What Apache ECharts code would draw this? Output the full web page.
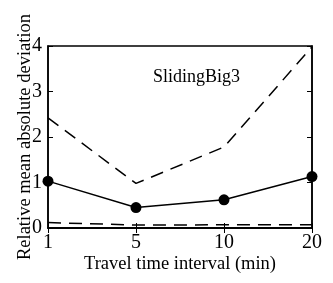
<!DOCTYPE html>
<html>
<head>
<meta charset="utf-8">
<script src="https://cdn.jsdelivr.net/npm/echarts@6/dist/echarts.min.js"></script>
<style>
html,body{margin:0;padding:0;background:#fff;}
#c{width:333px;height:283px;}
</style>
</head>
<body>
<div id="c"></div>
<script>
const categories = ['1', '5', '10', '20'];
const upperDashed = [2.42, 0.98, 1.78, 3.98];
const meanSolid = [1.03, 0.45, 0.62, 1.13];
const lowerDashed = [0.12, 0.065, 0.07, 0.07];
const yTicks = [0, 1, 2, 3, 4];

const FONT = '"Liberation Serif", "DejaVu Serif", serif';
const chart = echarts.init(document.getElementById('c'), null, {renderer: 'canvas'});
const tickStyle = {show: true, inside: true, length: 5, lineStyle: {color: '#000', width: 1}};
chart.setOption({
  animation: false,
  backgroundColor: '#fff',
  grid: {left: 48, right: 21, top: 46, bottom: 55, containLabel: false, outerBoundsMode: 'none',
    show: true, borderColor: '#000', borderWidth: 1.5, backgroundColor: 'transparent'},
  xAxis: [{
    type: 'category', data: categories, boundaryGap: false, position: 'bottom',
    axisLine: {show: true, lineStyle: {color: '#000', width: 1.5}},
    axisTick: Object.assign({alignWithLabel: true}, tickStyle),
    axisLabel: {color: '#000', fontSize: 20, fontFamily: FONT, margin: 5},
    splitLine: {show: false},
    name: 'Travel time interval (min)', nameLocation: 'middle', nameGap: 27, nameMoveOverlap: false,
    nameTextStyle: {color: '#000', fontSize: 18.5, fontFamily: FONT}
  }, {
    type: 'category', data: categories, boundaryGap: false, position: 'top',
    axisLine: {show: true, lineStyle: {color: '#000', width: 1.5}},
    axisTick: tickStyle, axisLabel: {show: false}, splitLine: {show: false}
  }],
  yAxis: [{
    type: 'value', min: 0, max: 4, interval: 1, position: 'left',
    axisLine: {show: true, lineStyle: {color: '#000', width: 1.5}},
    axisTick: tickStyle,
    axisLabel: {color: '#000', fontSize: 20, fontFamily: FONT, margin: 6,
      formatter: v => yTicks.includes(v) ? String(v) : ''},
    splitLine: {show: false},
    name: 'Relative mean absolute deviation', nameLocation: 'middle', nameGap: 13, nameMoveOverlap: false,
    nameTextStyle: {color: '#000', fontSize: 18.5, fontFamily: FONT}
  }, {
    type: 'value', min: 0, max: 4, interval: 1, position: 'right',
    axisLine: {show: true, lineStyle: {color: '#000', width: 1.5}},
    axisTick: tickStyle, axisLabel: {show: false}, splitLine: {show: false}
  }],
  graphic: [{
    type: 'text', left: 153, top: 68,
    style: {text: 'SlidingBig3', fill: '#000', font: '18px ' + FONT}
  }],
  series: [{
    type: 'line', data: upperDashed, xAxisIndex: 0, yAxisIndex: 0,
    showSymbol: false, symbol: 'none',
    lineStyle: {color: '#000', width: 1.5, type: [13, 8]}
  }, {
    type: 'line', data: meanSolid, xAxisIndex: 0, yAxisIndex: 0,
    symbol: 'circle', symbolSize: 11,
    itemStyle: {color: '#000'},
    lineStyle: {color: '#000', width: 1.5}
  }, {
    type: 'line', data: lowerDashed, xAxisIndex: 0, yAxisIndex: 0,
    showSymbol: false, symbol: 'none',
    lineStyle: {color: '#000', width: 1.5, type: [13, 8]}
  }]
});
</script>
</body>
</html>
